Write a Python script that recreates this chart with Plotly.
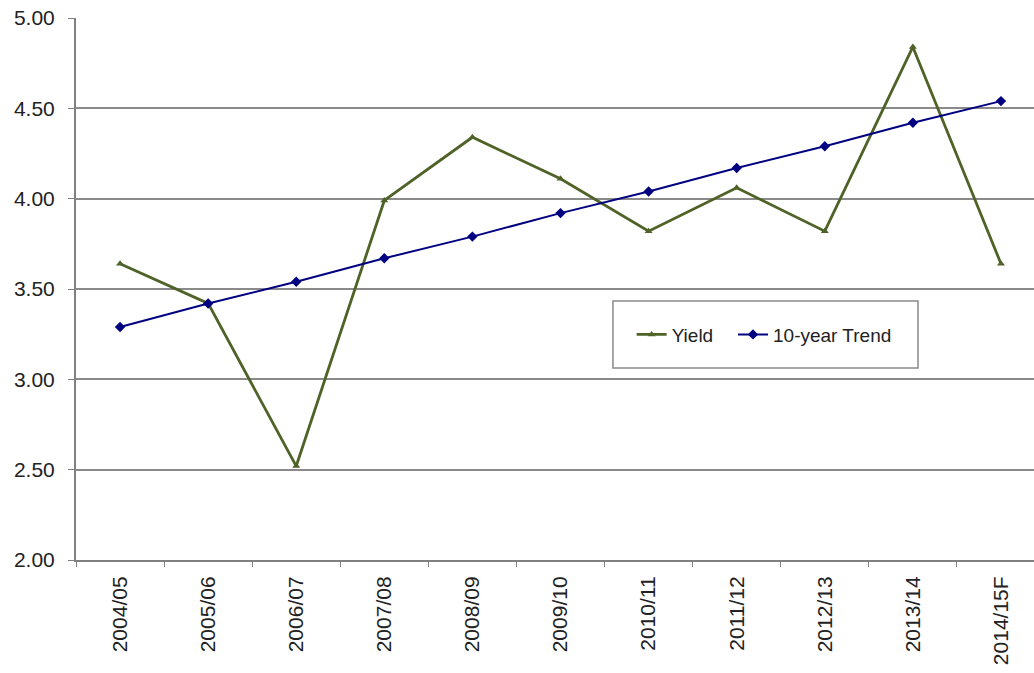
import plotly.graph_objects as go

categories = ["2004/05", "2005/06", "2006/07", "2007/08", "2008/09", "2009/10",
              "2010/11", "2011/12", "2012/13", "2013/14", "2014/15F"]
yield_vals = [3.64, 3.42, 2.52, 3.99, 4.34, 4.11, 3.82, 4.06, 3.82, 4.84, 3.64]
trend_vals = [3.29, 3.42, 3.54, 3.67, 3.79, 3.92, 4.04, 4.17, 4.29, 4.42, 4.54]
y_ticks = [2.0, 2.5, 3.0, 3.5, 4.0, 4.5, 5.0]
y_tick_labels = ["2.00", "2.50", "3.00", "3.50", "4.00", "4.50", "5.00"]

fig = go.Figure()
fig.add_trace(go.Scatter(
    x=categories, y=yield_vals, name="Yield", mode="lines+markers",
    line=dict(color="#4F6228", width=2.8),
    marker=dict(symbol="triangle-up", size=7, color="#4F6228"),
    legend="legend",
))
fig.add_trace(go.Scatter(
    x=categories, y=trend_vals, name="10-year Trend", mode="lines+markers",
    line=dict(color="#000080", width=2),
    marker=dict(symbol="diamond", size=8, color="#000080"),
    legend="legend2",
))

# legend frame
fig.add_shape(type="rect", xref="paper", yref="paper",
              x0=0.5605, x1=0.8789, y0=0.3542, y1=0.4779,
              line=dict(color="#8a8a8a", width=1.5), fillcolor="white", layer="below")

legend_common = dict(
    orientation="h", y=0.416, xanchor="left", yanchor="middle",
    bgcolor="rgba(0,0,0,0)", borderwidth=0,
    font=dict(size=19, color="#222"), itemwidth=30,
)

fig.update_layout(
    width=1034, height=673,
    margin=dict(l=76, r=0, t=18, b=113),
    paper_bgcolor="white", plot_bgcolor="white",
    font=dict(family="Liberation Sans, Arial, sans-serif", size=20, color="#222"),
    showlegend=True,
    legend=dict(x=0.580, **legend_common),
    legend2=dict(x=0.6858, **legend_common),
    xaxis=dict(
        type="category", range=[-0.5, 10.375],
        showline=True, linecolor="#808080", linewidth=2,
        ticks="outside", tickson="boundaries", ticklen=5, tickcolor="#808080",
        tickangle=-90, showgrid=False, tickfont=dict(size=21),
        ticklabelstandoff=6,
    ),
    yaxis=dict(
        range=[2.0, 5.0], tickvals=y_ticks, ticktext=y_tick_labels,
        showline=True, linecolor="#808080", linewidth=2,
        ticks="outside", ticklen=6, tickcolor="#808080",
        showgrid=True, gridcolor="#8a8a8a", gridwidth=1.5,
        tickfont=dict(size=21), zeroline=False, ticklabelstandoff=9,
    ),
)

fig.write_html("out.html")
